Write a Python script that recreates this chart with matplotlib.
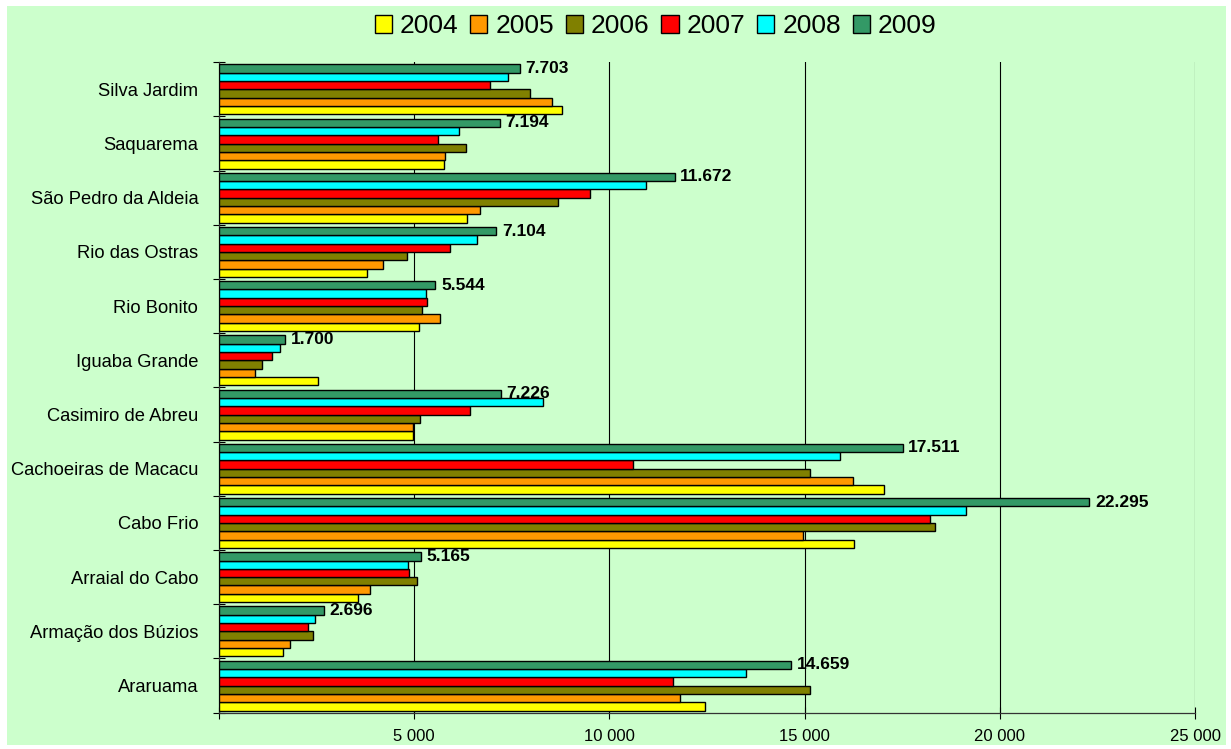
import matplotlib.pyplot as plt
import numpy as np
from matplotlib.patches import Rectangle

plt.rcParams['font.family'] = ['Liberation Sans', 'DejaVu Sans']

# bottom to top, as in the chart
cities = ['Araruama', 'Armação dos Búzios', 'Arraial do Cabo', 'Cabo Frio',
          'Cachoeiras de Macacu', 'Casimiro de Abreu', 'Iguaba Grande',
          'Rio Bonito', 'Rio das Ostras', 'São Pedro da Aldeia', 'Saquarema',
          'Silva Jardim']
years = ['2004', '2005', '2006', '2007', '2008', '2009']

v2004 = [12440, 1650, 3550, 16270, 17030, 4980, 2540, 5110, 3790, 6350, 5760, 8790]
v2005 = [11820, 1810, 3860, 14970, 16230, 4970, 920, 5650, 4210, 6690, 5780, 8540]
v2006 = [15140, 2400, 5060, 18330, 15130, 5140, 1100, 5190, 4810, 8680, 6320, 7970]
v2007 = [11640, 2290, 4860, 18200, 10600, 6440, 1360, 5320, 5920, 9510, 5600, 6930]
v2008 = [13500, 2450, 4850, 19140, 15900, 8310, 1550, 5310, 6620, 10940, 6150, 7390]
v2009 = [14659, 2696, 5165, 22295, 17511, 7226, 1700, 5544, 7104, 11672, 7194, 7703]
series = [v2004, v2005, v2006, v2007, v2008, v2009]

colors = ['#FFFF00', '#FF9900', '#808000', '#FF0000', '#00FFFF', '#339966']

fig = plt.figure(figsize=(12.31, 7.49), dpi=100, facecolor='white')
# light green chart area with thin white border
fig.patches.append(Rectangle((0.0057, 0.0053), 0.990, 0.9866, transform=fig.transFigure,
                             facecolor='#CCFFCC', edgecolor='none', zorder=-10))

ax = fig.add_axes([0.1779, 0.0485, 0.7929, 0.8684])
ax.set_facecolor('none')
ax.set_zorder(1)

y = np.arange(len(cities))
h = 0.1537
for i, (vals, c, yr) in enumerate(zip(series, colors, years)):
    ax.barh(y + (i - 2.5) * h, vals, height=h, color=c, edgecolor='black',
            linewidth=1.0, label=yr, zorder=3)

# value labels for 2009
for yi, v in zip(y, v2009):
    ax.annotate(f"{v:,}".replace(",", "."), xy=(v, yi + 2.5 * h), xytext=(4, 0),
                textcoords='offset points', va='center', ha='left',
                fontsize=12.5, fontweight='bold', zorder=4)

ax.set_xlim(0, 25000)
ax.set_ylim(-0.5, len(cities) - 0.5)

xt = [0, 5000, 10000, 15000, 20000, 25000]
ax.set_xticks(xt)
ax.set_xticklabels([f"{v:,}".replace(",", " ") if v > 0 else "" for v in xt], fontsize=12)
ax.tick_params(axis='x', direction='inout', length=8, width=0.8, pad=8)
ax.xaxis.grid(True, color='black', linewidth=0.8, zorder=0)
ax.set_axisbelow(True)

ax.set_yticks(np.arange(len(cities) + 1) - 0.5)
ax.set_yticklabels([])
ax.set_yticks(y, minor=True)
ax.set_yticklabels(cities, minor=True, fontsize=13.2)
ax.tick_params(axis='y', which='major', direction='inout', length=8, width=0.8)
ax.tick_params(axis='y', which='minor', length=0, pad=15)

for s in ['top', 'right']:
    ax.spines[s].set_visible(False)
for s in ['left', 'bottom']:
    ax.spines[s].set_linewidth(0.9)
    ax.spines[s].set_color('#333333')

leg = fig.legend(loc='center', bbox_to_anchor=(0.5326, 0.965), ncol=6, frameon=False,
                 fontsize=19, handlelength=0.65, handleheight=0.65, handletextpad=0.3,
                 columnspacing=0.45, borderpad=0)
leg.set_zorder(5)

fig.savefig('out.png', dpi=100, facecolor='white')
